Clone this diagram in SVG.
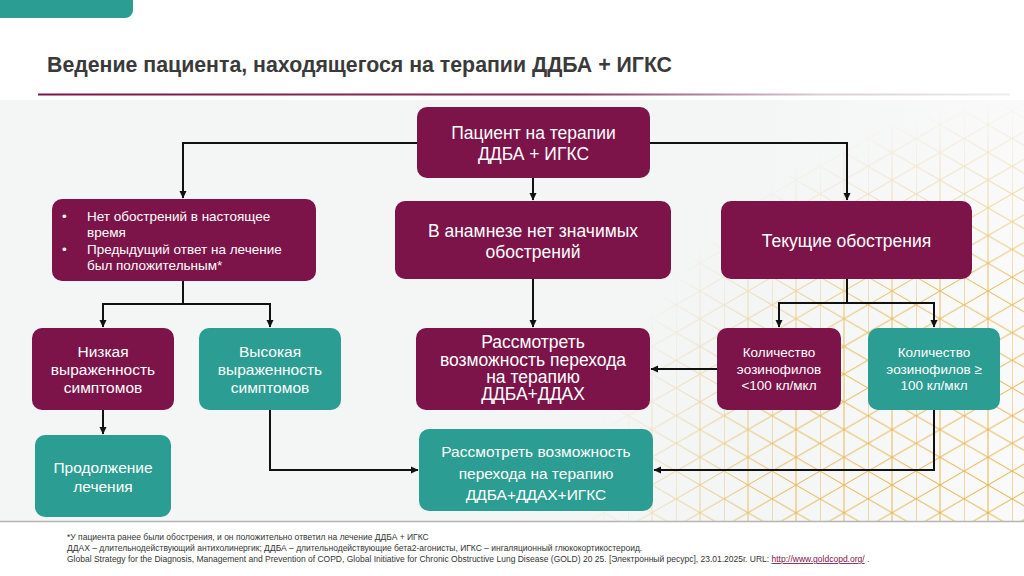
<svg xmlns="http://www.w3.org/2000/svg" width="1024" height="576" viewBox="0 0 1024 576">
<defs>
<style>
.pur{fill:#7c1449}
.teal{fill:#2b9d92}
.t{font-family:"Liberation Sans",Arial,sans-serif;fill:#ffffff;text-anchor:middle}
.tl{font-family:"Liberation Sans",Arial,sans-serif;fill:#ffffff}
.c{fill:none;stroke:#111111;stroke-width:2}
.fn{font-family:"Liberation Sans",Arial,sans-serif;font-size:8.5px;fill:#333333}
</style>
<marker id="ah" markerUnits="userSpaceOnUse" markerWidth="8" markerHeight="8" refX="7" refY="4" orient="auto">
<path d="M0,0.5 L7.5,4 L0,7.5 Z" fill="#111111"/>
</marker>
<pattern id="grid" patternUnits="userSpaceOnUse" x="4" y="0" width="48" height="27.713">
<g stroke="#e4b142" stroke-width="1" fill="none">
<line x1="0" y1="0" x2="0" y2="27.713"/>
<line x1="24" y1="0" x2="24" y2="27.713"/>
<line x1="0" y1="0" x2="48" y2="27.713"/>
<line x1="0" y1="27.713" x2="48" y2="0"/>
</g>
</pattern>
<radialGradient id="fade" cx="1024" cy="540" r="440" gradientUnits="userSpaceOnUse">
<stop offset="0" stop-color="#fff" stop-opacity="1"/>
<stop offset="0.6" stop-color="#fff" stop-opacity="0.85"/>
<stop offset="1" stop-color="#fff" stop-opacity="0"/>
</radialGradient>
<mask id="m">
<rect x="0" y="0" width="1024" height="522" fill="url(#fade)"/>
</mask>
<linearGradient id="rule" x1="0" y1="0" x2="1" y2="0">
<stop offset="0" stop-color="#7c1449"/>
<stop offset="0.55" stop-color="#843058"/>
<stop offset="0.8" stop-color="#d8cdd2"/>
<stop offset="1" stop-color="#eeeeee"/>
</linearGradient>
<linearGradient id="panel" x1="0" y1="0" x2="1" y2="0">
<stop offset="0" stop-color="#f4f5f5"/>
<stop offset="0.75" stop-color="#f4f5f5"/>
<stop offset="1" stop-color="#fafafa"/>
</linearGradient>
</defs>

<rect x="0" y="0" width="1024" height="576" fill="#ffffff"/>
<rect x="0" y="100" width="1024" height="421" fill="url(#panel)"/>
<rect x="0" y="0" width="1024" height="522" fill="url(#grid)" mask="url(#m)"/>
<line x1="0" y1="521.5" x2="1024" y2="521.5" stroke="#b5b5b5" stroke-width="1.5"/>

<path d="M0,0 H133 V10 A8,8 0 0 1 125,18 H0 Z" fill="#2b9d92"/>

<text x="47" y="72" font-family="'Liberation Sans Narrow','Liberation Sans',Arial,sans-serif" font-size="21.5" font-weight="bold" fill="#3a3a3a" textLength="625" lengthAdjust="spacingAndGlyphs">Ведение пациента, находящегося на терапии ДДБА + ИГКС</text>
<rect x="38" y="93.5" width="972" height="2" fill="url(#rule)"/>

<g id="connectors">
<path class="c" d="M417,143 H183 V198" marker-end="url(#ah)"/>
<path class="c" d="M650,143 H847 V200" marker-end="url(#ah)"/>
<path class="c" d="M533,178 V200" marker-end="url(#ah)"/>
<path class="c" d="M183,281 V304"/>
<path class="c" d="M103,304 H270"/>
<path class="c" d="M103,303 V327" marker-end="url(#ah)"/>
<path class="c" d="M270,303 V327" marker-end="url(#ah)"/>
<path class="c" d="M103,410 V434" marker-end="url(#ah)"/>
<path class="c" d="M270,410 V470 H418" marker-end="url(#ah)"/>
<path class="c" d="M533,279 V327" marker-end="url(#ah)"/>
<path class="c" d="M847,279 V303"/>
<path class="c" d="M779,303 H934"/>
<path class="c" d="M779,302 V327" marker-end="url(#ah)"/>
<path class="c" d="M934,302 V327" marker-end="url(#ah)"/>
<path class="c" d="M717,369 H651" marker-end="url(#ah)"/>
<path class="c" d="M934,410 V470 H654" marker-end="url(#ah)"/>
</g>

<g id="n_patient">
<rect class="pur" x="417" y="107" width="233" height="71" rx="10"/>
<text class="t" font-size="17.5"><tspan x="533.5" y="139">Пациент на терапии</tspan><tspan x="533.5" y="160">ДДБА + ИГКС</tspan></text>
</g>

<g id="n_noexac">
<rect class="pur" x="52" y="199" width="264" height="82" rx="10"/>
<text class="tl" font-size="13.5">
<tspan x="62" y="221">•</tspan><tspan x="87" y="221">Нет обострений в настоящее</tspan>
<tspan x="87" y="237">время</tspan>
<tspan x="62" y="254">•</tspan><tspan x="87" y="254">Предыдущий ответ на лечение</tspan>
<tspan x="87" y="270">был положительным*</tspan>
</text>
</g>

<g id="n_history">
<rect class="pur" x="395" y="201" width="276" height="78" rx="10"/>
<text class="t" font-size="17.5"><tspan x="533" y="237">В анамнезе нет значимых</tspan><tspan x="533" y="258">обострений</tspan></text>
</g>

<g id="n_current">
<rect class="pur" x="721" y="201" width="251" height="78" rx="10"/>
<text class="t" font-size="17.5" x="846.5" y="247">Текущие обострения</text>
</g>

<g id="n_low">
<rect class="pur" x="32" y="328" width="142" height="82" rx="10"/>
<text class="t" font-size="15.5"><tspan x="103" y="357">Низкая</tspan><tspan x="103" y="375">выраженность</tspan><tspan x="103" y="393">симптомов</tspan></text>
</g>

<g id="n_high">
<rect class="teal" x="199" y="328" width="142" height="82" rx="10"/>
<text class="t" font-size="15.5"><tspan x="270" y="357">Высокая</tspan><tspan x="270" y="375">выраженность</tspan><tspan x="270" y="393">симптомов</tspan></text>
</g>

<g id="n_continue">
<rect class="teal" x="35" y="435" width="136" height="82" rx="10"/>
<text class="t" font-size="15.5"><tspan x="103" y="473">Продолжение</tspan><tspan x="103" y="492">лечения</tspan></text>
</g>

<g id="n_laba_lama">
<rect class="pur" x="416" y="328" width="234" height="82" rx="10"/>
<text class="t" font-size="17.5"><tspan x="533" y="348">Рассмотреть</tspan><tspan x="533" y="365.5">возможность перехода</tspan><tspan x="533" y="382.5">на терапию</tspan><tspan x="533" y="399.5">ДДБА+ДДАХ</tspan></text>
</g>

<g id="n_triple">
<rect class="teal" x="419" y="429" width="234" height="82" rx="10"/>
<text class="t" font-size="15.5"><tspan x="536" y="457">Рассмотреть возможность</tspan><tspan x="536" y="478.5">перехода на терапию</tspan><tspan x="536" y="500">ДДБА+ДДАХ+ИГКС</tspan></text>
</g>

<g id="n_eos_low">
<rect class="pur" x="717" y="328" width="124" height="82" rx="10"/>
<text class="t" font-size="13.5"><tspan x="779" y="357">Количество</tspan><tspan x="779" y="374">эозинофилов</tspan><tspan x="779" y="390">&lt;100 кл/мкл</tspan></text>
</g>

<g id="n_eos_high">
<rect class="teal" x="868" y="328" width="132" height="82" rx="10"/>
<text class="t" font-size="13.5"><tspan x="934" y="357">Количество</tspan><tspan x="934" y="374">эозинофилов ≥</tspan><tspan x="934" y="390">100 кл/мкл</tspan></text>
</g>

<g id="footnotes">
<text class="fn" x="67" y="540">*У пациента ранее были обострения, и он положительно ответил на лечение ДДБА + ИГКС</text>
<text class="fn" x="67" y="551">ДДАХ – длительнодействующий антихолинергик; ДДБА – длительнодействующие бета2-агонисты, ИГКС – ингаляционный глюкокортикостероид.</text>
<text class="fn" x="67" y="562">Global Strategy for the Diagnosis, Management and Prevention of COPD, Global Initiative for Chronic Obstructive Lung Disease (GOLD) 20 25. [Электронный ресурс], 23.01.2025г. URL: <tspan fill="#7c1449" text-decoration="underline">http://www.goldcopd.org/</tspan> .</text>
</g>
</svg>
